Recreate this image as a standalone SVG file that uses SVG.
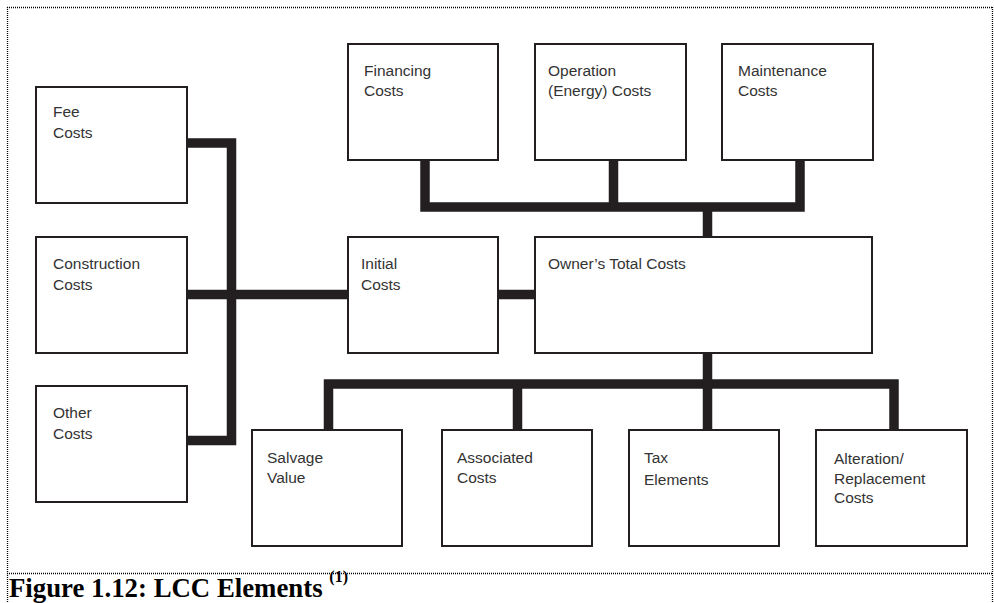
<svg xmlns="http://www.w3.org/2000/svg" width="994" height="603" viewBox="0 0 994 603">
  <style>
    .box { fill: #ffffff; stroke: #231f20; stroke-width: 2; }
    .lbl { font-family: "Liberation Sans", Arial, sans-serif; font-size: 15.5px; fill: #333333; }
    .wire { fill: none; stroke: #231f20; stroke-width: 9.5; stroke-linejoin: miter; stroke-linecap: butt; }
    .frame { fill: none; stroke: #000000; stroke-width: 1.3; stroke-dasharray: 1 1; }
    .cap { font-family: "Liberation Serif", "Times New Roman", serif; font-weight: bold; fill: #000000; }
  </style>
  <rect width="994" height="603" fill="#ffffff"/>

  <!-- dotted frame -->
  <g id="frame">
    <line class="frame" x1="7" y1="7.5" x2="992" y2="7.5"/>
    <line class="frame" x1="7" y1="573.5" x2="992" y2="573.5"/>
    <line class="frame" x1="7.5" y1="7" x2="7.5" y2="603" stroke-width="2.5"/>
    <line class="frame" x1="992.5" y1="7" x2="992.5" y2="603" stroke-width="2.5"/>
  </g>

  <!-- connectors -->
  <g id="connectors">
    <path class="wire" d="M187 143 H231.5 V440.5 H187"/>
    <path class="wire" d="M187 294.5 H348"/>
    <path class="wire" d="M498 294.5 H535"/>
    <path class="wire" d="M425 160 V207 H800 V160"/>
    <path class="wire" d="M613.5 160 V207"/>
    <path class="wire" d="M707.5 207 V237"/>
    <path class="wire" d="M328.5 430 V384 H894 V430"/>
    <path class="wire" d="M517.5 384 V430"/>
    <path class="wire" d="M707.5 353 V430"/>
  </g>

  <!-- left column -->
  <g id="fee">
    <rect class="box" x="36" y="87" width="151" height="116"/>
    <text class="lbl" x="53" y="117">Fee</text>
    <text class="lbl" x="53" y="138">Costs</text>
  </g>
  <g id="construction">
    <rect class="box" x="36" y="237" width="151" height="116"/>
    <text class="lbl" x="53" y="269">Construction</text>
    <text class="lbl" x="53" y="290">Costs</text>
  </g>
  <g id="other">
    <rect class="box" x="36" y="386" width="151" height="116"/>
    <text class="lbl" x="53" y="418">Other</text>
    <text class="lbl" x="53" y="439">Costs</text>
  </g>

  <!-- middle row -->
  <g id="initial">
    <rect class="box" x="348" y="237" width="150" height="116"/>
    <text class="lbl" x="361" y="269">Initial</text>
    <text class="lbl" x="361" y="290">Costs</text>
  </g>
  <g id="owner">
    <rect class="box" x="535" y="237" width="337" height="116"/>
    <text class="lbl" x="548" y="269">Owner’s Total Costs</text>
  </g>

  <!-- top row -->
  <g id="financing">
    <rect class="box" x="348" y="44" width="150" height="116"/>
    <text class="lbl" x="364" y="76">Financing</text>
    <text class="lbl" x="364" y="96">Costs</text>
  </g>
  <g id="operation">
    <rect class="box" x="535" y="44" width="151" height="116"/>
    <text class="lbl" x="548" y="76">Operation</text>
    <text class="lbl" x="548" y="96">(Energy) Costs</text>
  </g>
  <g id="maintenance">
    <rect class="box" x="722" y="44" width="151" height="116"/>
    <text class="lbl" x="738" y="76">Maintenance</text>
    <text class="lbl" x="738" y="96">Costs</text>
  </g>

  <!-- bottom row -->
  <g id="salvage">
    <rect class="box" x="252" y="430" width="150" height="116"/>
    <text class="lbl" x="267" y="463">Salvage</text>
    <text class="lbl" x="267" y="483">Value</text>
  </g>
  <g id="associated">
    <rect class="box" x="442" y="430" width="150" height="116"/>
    <text class="lbl" x="457" y="463">Associated</text>
    <text class="lbl" x="457" y="483">Costs</text>
  </g>
  <g id="tax">
    <rect class="box" x="629" y="430" width="150" height="116"/>
    <text class="lbl" x="644" y="463">Tax</text>
    <text class="lbl" x="644" y="485">Elements</text>
  </g>
  <g id="alteration">
    <rect class="box" x="816" y="430" width="151" height="116"/>
    <text class="lbl" x="834" y="464">Alteration/</text>
    <text class="lbl" x="834" y="484">Replacement</text>
    <text class="lbl" x="834" y="503">Costs</text>
  </g>

  <!-- caption -->
  <text class="cap" x="9" y="597" font-size="26.8">Figure 1.12: LCC Elements <tspan font-size="16" dy="-15">(1)</tspan></text>
</svg>
